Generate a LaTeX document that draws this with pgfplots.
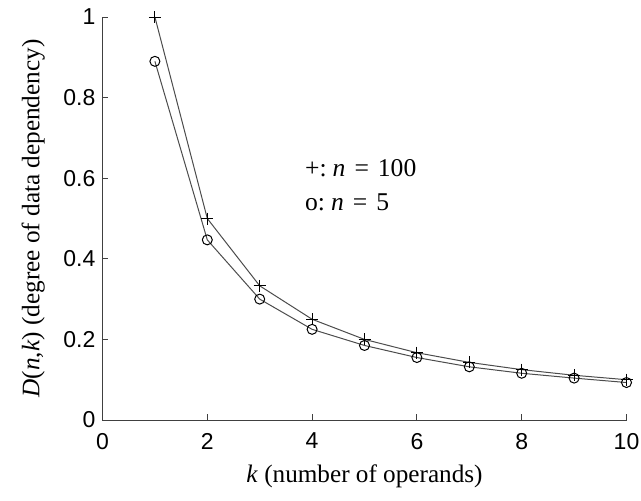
\documentclass[border=0pt]{standalone}
\usepackage{fontspec}
\setmainfont{Liberation Serif}
\setsansfont{Liberation Sans}
\usepackage{pgfplots}
\pgfplotsset{compat=1.18}
\begin{document}
\begin{tikzpicture}
\begin{axis}[
  scale only axis,
  width=262pt, height=201.5pt,
  xmin=0, xmax=10, ymin=0, ymax=1,
  axis lines*=left,
  axis line style={black!75, line width=0.5pt},
  tick style={black!75, line width=0.5pt},
  tick align=inside,
  major tick length=3pt,
  xtick={0,2,4,6,8,10},
  ytick={0,0.2,0.4,0.6,0.8,1},
  ticklabel style={font=\sffamily\fontsize{11.5}{13}\selectfont},
  xticklabel style={yshift=-3pt},
  /pgf/number format/assume math mode=true,
  xlabel={\textit{k} (number of operands)},
  ylabel={\textit{D}(\textit{n},\textit{k}) (degree of data dependency)},
  label style={font=\fontsize{12.6}{14}\selectfont},
  xlabel style={yshift=-1pt},
  ylabel style={yshift=2.5pt},
  clip=false,
]
\addplot[black!70, line width=0.5pt, mark=+, mark size=3pt, mark options={black, line width=0.5pt}]
 coordinates {(1,1.0) (2,0.5) (3,0.333) (4,0.25) (5,0.2) (6,0.167) (7,0.143) (8,0.125) (9,0.111) (10,0.1)};
\addplot[black!70, line width=0.5pt, mark=o, mark size=2.5pt, mark options={black, line width=0.5pt}]
 coordinates {(1,0.89) (2,0.447) (3,0.30) (4,0.225) (5,0.185) (6,0.155) (7,0.132) (8,0.116) (9,0.104) (10,0.093)};
\node[anchor=west, inner sep=0pt, font=\fontsize{12.8}{14}\selectfont] at (axis cs:3.86,0.625) {+:\hspace{3pt}\textit{n}\hspace{4.5pt}=\hspace{4.5pt}100};
\node[anchor=west, inner sep=0pt, font=\fontsize{12.8}{14}\selectfont] at (axis cs:3.86,0.541) {o:\hspace{3pt}\textit{n}\hspace{4.5pt}=\hspace{4.5pt}5};
\end{axis}
\pgfresetboundingbox
\path[use as bounding box] ([shift={(-51.25pt,-40pt)}]current axis.south west) rectangle ([shift={(7.25pt,8.5pt)}]current axis.north east);
\end{tikzpicture}
\end{document}
